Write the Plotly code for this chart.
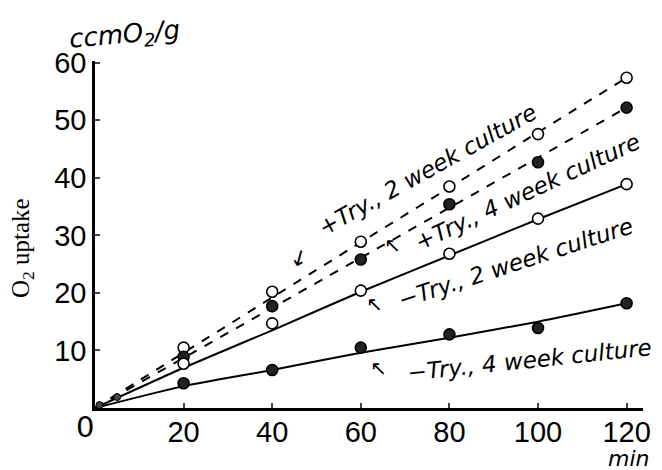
import plotly.graph_objects as go

minutes = [20, 40, 60, 80, 100, 120]
plus_2wk = [10.5, 20.2, 28.9, 38.5, 47.6, 57.4]
plus_4wk = [8.9, 17.7, 25.8, 35.4, 42.7, 52.2]
minus_2wk = [7.7, 14.7, 20.4, 26.8, 32.9, 38.9]
minus_4wk = [4.3, 6.6, 10.5, 12.8, 13.9, 18.2]

early_x = [1, 5]
early_y = [0.5, 1.9]

line_x = [0, 20, 40, 60, 80, 100, 120]
plus_2wk_line = [0, 9.6, 19.2, 28.8, 38.3, 47.9, 57.4]
plus_4wk_line = [0, 8.7, 17.4, 26.1, 34.8, 43.5, 52.2]
minus_2wk_line = [0, 7.0, 13.5, 20.2, 26.5, 32.8, 38.9]
minus_4wk_line = [0, 3.8, 6.6, 9.6, 12.2, 15.0, 18.2]

x_ticks = [20, 40, 60, 80, 100, 120]
y_ticks = [10, 20, 30, 40, 50, 60]

fig = go.Figure()

for ly, dash in [(plus_2wk_line, "dash"), (plus_4wk_line, "dash"),
                 (minus_2wk_line, "solid"), (minus_4wk_line, "solid")]:
    fig.add_trace(go.Scatter(x=line_x, y=ly, mode="lines",
                             line=dict(color="black", width=2, dash=dash, shape="spline", smoothing=0.6),
                             showlegend=False, hoverinfo="skip"))

for ys, filled in [(plus_2wk, False), (plus_4wk, True), (minus_2wk, False), (minus_4wk, True)]:
    fig.add_trace(go.Scatter(x=minutes, y=ys, mode="markers",
                             marker=dict(size=11, color="#222" if filled else "white",
                                         line=dict(color="black", width=1.6)),
                             showlegend=False))

fig.add_trace(go.Scatter(x=early_x, y=early_y, mode="markers",
                         marker=dict(size=7, color="#444", line=dict(color="black", width=1)),
                         showlegend=False))

hand = "DejaVu Sans"
ann = [
    dict(x=427, y=170, text="<i>+Try., 2 week culture</i>", textangle=-29, size=23),
    dict(x=527, y=192, text="<i>+Try., 4 week culture</i>", textangle=-25, size=23),
    dict(x=515, y=263, text="<i>−Try., 2 week culture</i>", textangle=-18, size=23),
    dict(x=529, y=360, text="<i>−Try., 4 week culture</i>", textangle=-6, size=23),
    dict(x=299, y=258, text="↓", textangle=15, size=22),
    dict(x=393, y=245, text="↖", textangle=0, size=20),
    dict(x=374, y=304, text="↖", textangle=0, size=20),
    dict(x=378, y=368, text="↖", textangle=0, size=20),
    dict(x=124, y=35, text="<i>ccmO<sub>2</sub>/g</i>", textangle=-5, size=26),
    dict(x=629, y=459, text="<i>min</i>", textangle=0, size=22),
    dict(x=85, y=427, text="0", textangle=0, size=29),
]

L, R, T, B = 95, 19, 61, 62
W, H = 662, 470
pw, ph = W - L - R, H - T - B

for a in ann:
    fig.add_annotation(x=(a["x"] - L) / pw, y=(H - B - a["y"]) / ph,
                       xref="paper", yref="paper", xanchor="center", yanchor="middle",
                       text=a["text"], textangle=a["textangle"], showarrow=False,
                       font=dict(family=hand, size=a["size"], color="black"))

fig.add_annotation(x=(22 - L) / pw, y=(H - B - 248) / ph, xref="paper", yref="paper",
                   xanchor="center", yanchor="middle",
                   text="O<sub>2</sub> uptake", textangle=-90, showarrow=False,
                   font=dict(family="Liberation Serif", size=25, color="black"))

fig.update_layout(
    width=W, height=H,
    margin=dict(l=L, r=R, t=T, b=B, autoexpand=False),
    paper_bgcolor="white", plot_bgcolor="white",
    xaxis=dict(range=[0, 123.7], tickvals=x_ticks, ticks="inside", ticklen=5, tickwidth=1.5,
               showline=True, linecolor="black", linewidth=2.5, showgrid=False, zeroline=False,
               automargin=False, ticklabelstandoff=-4,
               tickfont=dict(family="Liberation Sans", size=29, color="black")),
    yaxis=dict(range=[0, 60.3], tickvals=y_ticks, ticks="inside", ticklen=5, tickwidth=1.5,
               showline=True, linecolor="black", linewidth=2.5, showgrid=False, zeroline=False,
               automargin=False,
               tickfont=dict(family="Liberation Sans", size=29, color="black")),
)

fig.write_html("out.html", config={"displayModeBar": False},
               post_script="document.body.style.margin='0';document.body.style.overflow='hidden';")
